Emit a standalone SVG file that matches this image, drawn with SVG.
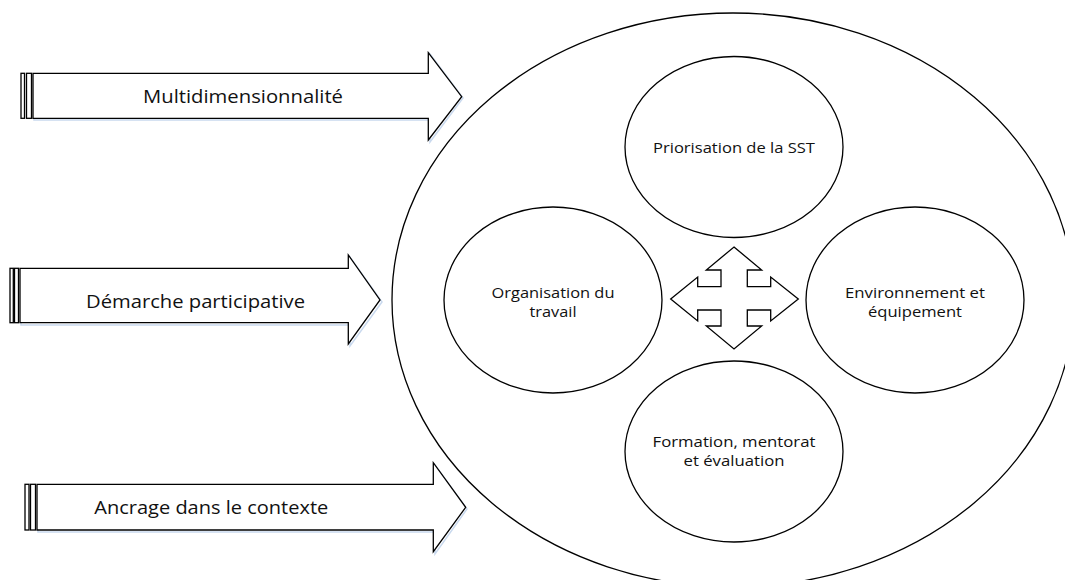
<svg xmlns="http://www.w3.org/2000/svg" width="1065" height="580" viewBox="0 0 1065 580">
<style>
.sh{fill:none;stroke:#c9d9ee;stroke-width:1.5}
.ar{fill:#fff;stroke:#000;stroke-width:1.3;stroke-linejoin:miter}
.bar{fill:#fff;stroke:#000;stroke-width:1.3}
.el{fill:#fff;stroke:#000;stroke-width:1.3}
.t{font-family:"Open Sans","Liberation Sans",sans-serif;fill:#111;text-anchor:middle}
.ta{font-size:17.5px}
.tc{font-size:13.8px}
</style>
<rect width="1065" height="580" fill="#fff"/>
<g id="outer">
<ellipse class="el" cx="733" cy="300" rx="341" ry="287"/>
</g>
<g id="connectors">
<g id="arrow-multi">
<polygon class="sh" points="34,75 430,75 430,54 463,98 430,142 430,120 34,120"/>
<rect class="bar" x="21" y="73.3" width="3.5" height="45"/>
<rect class="bar" x="26.5" y="73.3" width="5" height="45"/>
<polygon class="ar" points="33,73.3 428.3,73.3 428.3,52.7 461.7,96.7 428.3,140 428.3,118.3 33,118.3"/>
</g>
<g id="arrow-demarche">
<polygon class="sh" points="21,270 350,270 350,257 382,302 350,346 350,325 21,325"/>
<rect class="bar" x="10" y="268.3" width="3.3" height="54.4"/>
<rect class="bar" x="14.5" y="268.3" width="4" height="54.4"/>
<polygon class="ar" points="20,268.3 348.3,268.3 348.3,255 380,300 348.3,344 348.3,322.7 20,322.7"/>
</g>
<g id="arrow-ancrage">
<polygon class="sh" points="38,486 435,486 435,465 467,509 435,554 435,532 38,532"/>
<rect class="bar" x="25" y="484.3" width="4" height="45.7"/>
<rect class="bar" x="30.5" y="484.3" width="5" height="45.7"/>
<polygon class="ar" points="37,484.3 433.3,484.3 433.3,462.7 465.7,507.3 433.3,551.7 433.3,530 37,530"/>
</g>
<polygon id="cross" class="ar" points="734,247 761.7,270 747.3,270 747.3,286.7 770.7,286.7 770.7,277 798.3,299 770.7,321 770.7,310 747.3,310 747.3,326 761.7,326 734,349 706.3,326 721,326 721,310 697.7,310 697.7,321 670.7,299 697.7,277 697.7,286.7 721,286.7 721,270 706.3,270"/>
</g>
<text class="t ta" x="243" y="103" textLength="200" lengthAdjust="spacingAndGlyphs">Multidimensionnalité</text>
<text class="t ta" x="195.5" y="308" textLength="219" lengthAdjust="spacingAndGlyphs">Démarche participative</text>
<text class="t ta" x="211.3" y="514" textLength="234" lengthAdjust="spacingAndGlyphs">Ancrage dans le contexte</text>
<g id="node-priorisation">
<ellipse class="el" cx="734" cy="147" rx="109" ry="90.5"/>
<text class="t tc" x="734" y="152.5" textLength="162" lengthAdjust="spacingAndGlyphs">Priorisation de la SST</text>
</g>
<g id="node-organisation">
<ellipse class="el" cx="553" cy="300" rx="109" ry="93"/>
<text class="t tc" x="553" y="297.5" textLength="123" lengthAdjust="spacingAndGlyphs">Organisation du</text>
<text class="t tc" x="553" y="316.5" textLength="47" lengthAdjust="spacingAndGlyphs">travail</text>
</g>
<g id="node-environnement">
<ellipse class="el" cx="915" cy="300" rx="109" ry="93"/>
<text class="t tc" x="915" y="297.5" textLength="140" lengthAdjust="spacingAndGlyphs">Environnement et</text>
<text class="t tc" x="915" y="316.5" textLength="94" lengthAdjust="spacingAndGlyphs">équipement</text>
</g>
<g id="node-formation">
<ellipse class="el" cx="734" cy="451.5" rx="109" ry="90.5"/>
<text class="t tc" x="734" y="446.5" textLength="163" lengthAdjust="spacingAndGlyphs">Formation, mentorat</text>
<text class="t tc" x="734" y="465.5" textLength="101" lengthAdjust="spacingAndGlyphs">et évaluation</text>
</g>
</svg>
